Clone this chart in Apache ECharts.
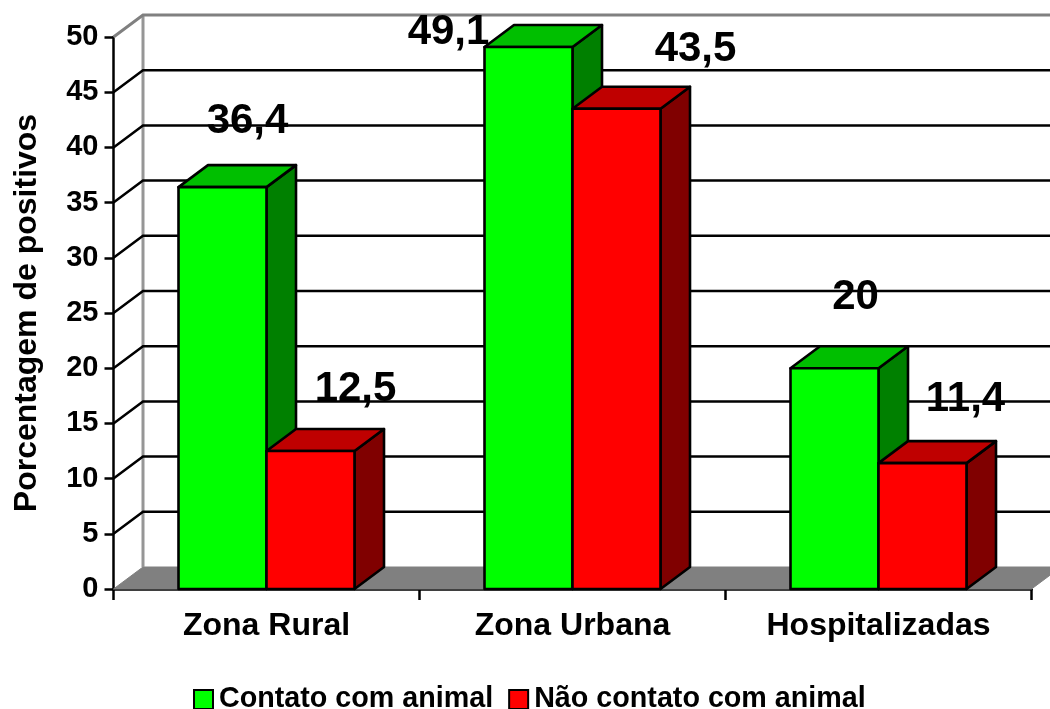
<!DOCTYPE html>
<html>
<head>
<meta charset="utf-8">
<style>html,body{margin:0;padding:0;background:#fff}#c{width:1050px;height:709px}</style>
<script src="https://cdn.jsdelivr.net/npm/echarts@6/dist/echarts.min.js"></script>
</head>
<body>
<div id="c"></div>
<script>
// Soro-positividade por grupo, colunas em pseudo-3D
const categories = ['Zona Rural', 'Zona Urbana', 'Hospitalizadas'];
const contato = [36.4, 49.1, 20];
const naoContato = [12.5, 43.5, 11.4];
const yTicks = [0, 5, 10, 15, 20, 25, 30, 35, 40, 45, 50];
const nameContato = 'Contato com animal';
const nameNaoContato = 'Não contato com animal';
const axisTitle = 'Porcentagem de positivos';

// Deslocamento dos rótulos de valor em relação ao centro do topo de cada coluna
const contatoLabelShift = [[25, -66], [-80, -15], [21, -71]];
const naoContatoLabelShift = [[45, -62], [79, -59], [43, -64]];

const DX = 29.5, DY = 22, BAR_W = 88;
const FONT = '"Liberation Sans", Arial, sans-serif';

const chart = echarts.init(document.getElementById('c'), null, { renderer: 'canvas' });

// Paredes, piso e linhas de grade da caixa 3D
function renderWall(params, api) {
  const cs = params.coordSys;
  const v = api.value(0);
  const p = api.coord([0, v]);
  const y = p[1], x0 = cs.x, x1 = cs.x + cs.width;
  const children = [];
  if (v === 0) {
    children.push({
      type: 'polygon',
      shape: { points: [[x0, y], [x0 + DX, y - DY], [x1 + DX, y - DY], [x1, y]] },
      style: { fill: '#808080', stroke: '#808080', lineWidth: 1 }
    });
    const top = api.coord([0, 50])[1];
    children.push({
      type: 'line',
      shape: { x1: x0 + DX, y1: y - DY, x2: x0 + DX, y2: top - DY },
      style: { stroke: '#969696', lineWidth: 3 }
    });
  } else {
    const col = v === 50 ? '#808080' : '#000';
    children.push({
      type: 'polyline',
      shape: { points: [[x0, y], [x0 + DX, y - DY], [x1 + DX, y - DY]] },
      style: { stroke: col, lineWidth: v === 50 ? 3 : 2.5, fill: 'none' }
    });
  }
  return { type: 'group', children };
}

function barRenderer(side, colors, shifts) {
  return function (params, api) {
    const i = api.value(0), v = api.value(1);
    const c = api.coord([i, v]), b = api.coord([i, 0]);
    const xL = side < 0 ? c[0] - BAR_W : c[0];
    const xR = xL + BAR_W;
    const yT = c[1], yB = b[1];
    const line = { stroke: '#000', lineWidth: 2.6, lineJoin: 'round' };
    const shift = shifts[i];
    return {
      type: 'group',
      children: [
        { type: 'polygon', shape: { points: [[xR, yB], [xR + DX, yB - DY], [xR + DX, yT - DY], [xR, yT]] },
          style: { fill: colors.side, ...line } },
        { type: 'polygon', shape: { points: [[xL, yT], [xL + DX, yT - DY], [xR + DX, yT - DY], [xR, yT]] },
          style: { fill: colors.top, ...line } },
        { type: 'rect', shape: { x: xL, y: yT, width: BAR_W, height: yB - yT },
          style: { fill: colors.front, ...line } },
        { type: 'text', z2: 100,
          style: { text: String(v).replace('.', ','), x: (xL + xR) / 2 + shift[0], y: yT + shift[1],
            align: 'center', verticalAlign: 'middle', fill: '#000', font: 'bold 42px ' + FONT } }
      ]
    };
  };
}

chart.setOption({
  animation: false,
  backgroundColor: '#fff',
  grid: { left: 113.5, right: 18.5, top: 37, bottom: 120 },
  legend: {
    data: [nameContato, nameNaoContato],
    left: 193, top: 685, icon: 'rect', itemWidth: 19, itemHeight: 19, itemGap: 15, padding: 0,
    textStyle: { fontFamily: FONT, fontWeight: 'bold', fontSize: 28.7, color: '#000', padding: [0, 0, 0, 1] }
  },
  xAxis: {
    type: 'category', data: categories, boundaryGap: true,
    axisLine: { lineStyle: { color: '#000', width: 2.5 } },
    axisTick: { show: true, length: 11, alignWithLabel: false, lineStyle: { color: '#000', width: 2.5 } },
    axisLabel: { fontFamily: FONT, fontWeight: 'bold', fontSize: 32, color: '#000', margin: 21 }
  },
  yAxis: {
    type: 'value', min: 0, max: 50, interval: 5,
    name: axisTitle, nameLocation: 'middle', nameRotate: 90, nameGap: 70,
    nameTextStyle: { fontFamily: FONT, fontWeight: 'bold', fontSize: 32, color: '#000' },
    axisLine: { show: true, lineStyle: { color: '#000', width: 2.5 } },
    axisTick: { show: true, length: 9, lineStyle: { color: '#000', width: 2.5 } },
    axisLabel: { fontFamily: FONT, fontWeight: 'bold', fontSize: 29, color: '#000', margin: 15 },
    splitLine: { show: false }
  },
  series: [
    { type: 'custom', name: 'grade', coordinateSystem: 'cartesian2d', z: 1, silent: true,
      renderItem: renderWall, encode: { y: 0 }, data: yTicks.map(v => [v]) },
    { type: 'custom', name: nameContato, z: 3, renderItem: barRenderer(-1, { front: '#00ff00', top: '#00bf00', side: '#008000' }, contatoLabelShift),
      itemStyle: { color: '#00ff00', borderColor: '#000', borderWidth: 2.5 },
      encode: { x: 0, y: 1 }, data: contato.map((v, i) => [i, v]) },
    { type: 'custom', name: nameNaoContato, z: 4, renderItem: barRenderer(1, { front: '#ff0000', top: '#bf0000', side: '#800000' }, naoContatoLabelShift),
      itemStyle: { color: '#ff0000', borderColor: '#000', borderWidth: 2.5 },
      encode: { x: 0, y: 1 }, data: naoContato.map((v, i) => [i, v]) }
  ]
});
</script>
</body>
</html>
